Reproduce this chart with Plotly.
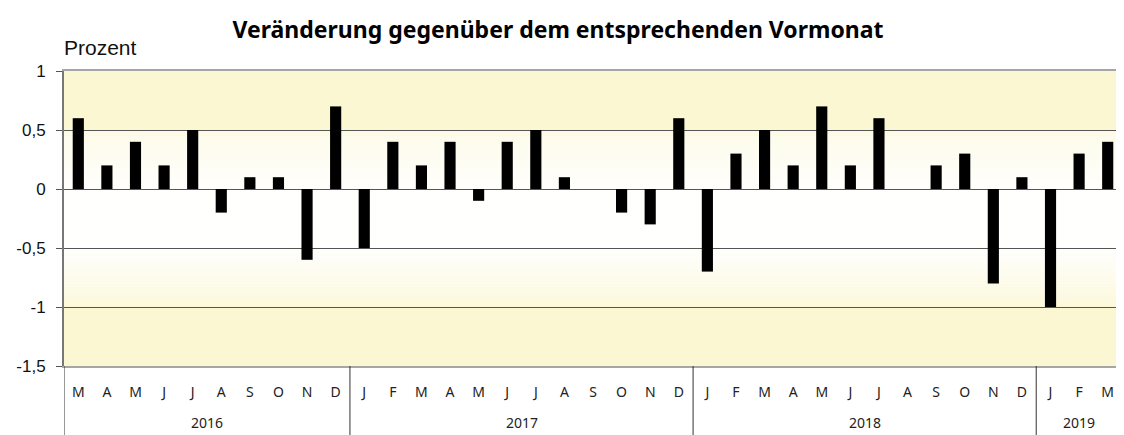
import plotly.graph_objects as go

# ---- data ----
months = ["M","A","M","J","J","A","S","O","N","D",
          "J","F","M","A","M","J","J","A","S","O","N","D",
          "J","F","M","A","M","J","J","A","S","O","N","D",
          "J","F","M"]
years = ["2016"]*10 + ["2017"]*12 + ["2018"]*12 + ["2019"]*3
values = [0.6, 0.2, 0.4, 0.2, 0.5, -0.2, 0.1, 0.1, -0.6, 0.7,
          -0.5, 0.4, 0.2, 0.4, -0.1, 0.4, 0.5, 0.1, 0.0, -0.2, -0.3, 0.6,
          -0.7, 0.3, 0.5, 0.2, 0.7, 0.2, 0.6, 0.0, 0.2, 0.3, -0.8, 0.1,
          -1.0, 0.3, 0.4]
y_ticks = [-1.5, -1, -0.5, 0, 0.5, 1]
y_ticktext = ["-1,5", "-1", "-0,5", "0", "0,5", "1"]
title_text = "Veränderung gegenüber dem entsprechenden Vormonat"
unit_text = "Prozent"

idx = list(range(len(values)))

fig = go.Figure()
fig.add_trace(go.Bar(x=idx, y=values, marker=dict(color="#000000", line=dict(width=0)),
                     width=0.39, hoverinfo="x+y"))

# ---- background gradient bands ----
Y = (251, 247, 211)
W = (255, 255, 255)
def mix(a, b, t):
    return "rgb(%d,%d,%d)" % tuple(round(a[i] + (b[i] - a[i]) * t) for i in range(3))

shapes = []
def band(y0, y1, t0, t1, n=1):
    for k in range(n):
        ya = y0 + (y1 - y0) * k / n
        yb = y0 + (y1 - y0) * (k + 1) / n
        t = t0 + (t1 - t0) * (k + 0.5) / n
        shapes.append(dict(type="rect", xref="paper", yref="y", x0=0, x1=1, y0=ya, y1=yb,
                           fillcolor=mix(W, Y, t), line=dict(width=0), layer="below"))
band(0.5, 1.0, 1.0, 1.0)
band(0.0, 0.5, 0.05, 0.55, 20)
band(-0.5, 0.0, 0.03, 0.03)
band(-1.0, -0.5, 0.85, 0.05, 20)
band(-1.5, -1.0, 1.0, 1.0)

# ---- year dividers and labels ----
annotations = []
groups = []
for i, yr in enumerate(years):
    if not groups or groups[-1][0] != yr:
        groups.append([yr, i, i])
    else:
        groups[-1][2] = i
for yr, a, b in groups:
    shapes.append(dict(type="line", xref="x", yref="paper", x0=a - 0.5, x1=a - 0.5,
                       y0=0, y1=-0.24, line=dict(color="#333333", width=1)))
    annotations.append(dict(x=(a + b) / 2, y=-0.193, xref="x", yref="paper", text=yr,
                            showarrow=False, yanchor="middle",
                            font=dict(family="Noto Sans", size=14, color="#222222")))

annotations.append(dict(x=-0.002, y=1.081, xref="paper", yref="paper", text=unit_text,
                        showarrow=False, xanchor="left", yanchor="middle",
                        font=dict(family="Arial", size=21, color="#111111")))

# the page adds an 8px body margin, so the figure is sized to fit inside the window
fig.update_layout(
    width=1116, height=427,
    margin=dict(l=56, r=2, t=63, b=69, autoexpand=False),
    paper_bgcolor="white", plot_bgcolor="white",
    showlegend=False,
    title=dict(text="<b>" + title_text + "</b>", x=0.4928, xanchor="center", y=0.948, yanchor="middle",
               font=dict(family="Noto Sans", size=23, color="#000000")),
    shapes=shapes, annotations=annotations,
    xaxis=dict(range=[-0.5, len(values) - 0.5], tickmode="array", tickvals=idx, ticktext=months,
               showgrid=False, zeroline=False, showline=True, mirror=True,
               linecolor="#a6a6a6", linewidth=2, ticks="", ticklabelstandoff=12,
               automargin=False,
               tickfont=dict(family="Noto Sans", size=14, color="#222222"), fixedrange=True),
    yaxis=dict(range=[-1.5, 1.0], tickmode="array", tickvals=y_ticks, ticktext=y_ticktext,
               showgrid=True, gridcolor="#555555", gridwidth=1,
               zeroline=True, zerolinecolor="#555555", zerolinewidth=1,
               showline=True, linecolor="#777777", linewidth=2,
               ticks="outside", ticklen=6, tickcolor="#555555", ticklabelstandoff=7,
               automargin=False,
               tickfont=dict(family="Arial", size=17, color="#111111"), fixedrange=True),
)

fig.write_html("out.html")
